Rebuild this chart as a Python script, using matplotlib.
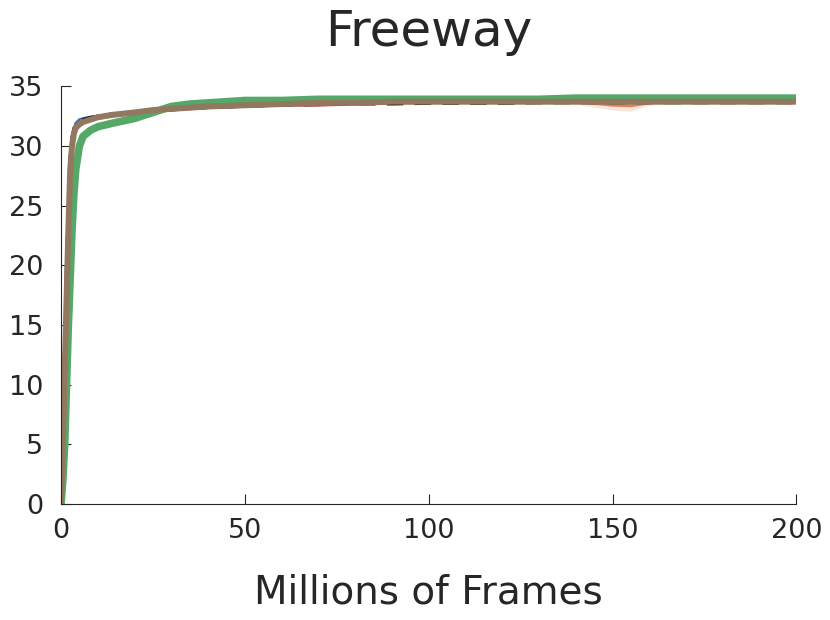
import numpy as np
import matplotlib.pyplot as plt

# frames (millions) and mean scores for each run
frames = [0, 0.5, 1, 1.5, 2, 2.5, 3, 3.5, 4, 5, 6, 8, 10, 14, 20, 25, 30, 35, 40, 50,
          60, 70, 80, 90, 100, 110, 120, 130, 140, 150, 155, 160, 170, 180, 190, 200]

blue = [0, 7, 14, 20, 25.5, 29, 30.6, 31.4, 31.9, 32.2, 32.3, 32.4, 32.5, 32.6, 32.8, 33.0,
        33.1, 33.2, 33.3, 33.4, 33.5, 33.6, 33.6, 33.6, 33.7, 33.7, 33.7, 33.8, 33.7, 33.8,
        33.8, 33.7, 33.8, 33.8, 33.8, 33.8]
red = [0, 5, 11, 17, 23, 28, 30, 31, 31.5, 31.8, 32.0, 32.2, 32.3, 32.5, 32.7, 32.9,
       33.0, 33.1, 33.2, 33.3, 33.4, 33.4, 33.5, 33.6, 33.6, 33.7, 33.7, 33.7, 33.7, 33.6,
       33.6, 33.7, 33.7, 33.7, 33.8, 33.7]
orange = [0, 5, 11, 17, 23, 28, 30, 31, 31.5, 31.8, 32.0, 32.2, 32.4, 32.6, 32.8, 33.0,
          33.1, 33.2, 33.3, 33.5, 33.6, 33.6, 33.7, 33.7, 33.7, 33.8, 33.8, 33.8, 33.7, 33.4,
          33.35, 33.6, 33.8, 33.8, 33.8, 33.8]
orange_lo = [0, 4, 10, 16, 22, 27.5, 29.6, 30.7, 31.3, 31.6, 31.8, 32.0, 32.2, 32.4, 32.6, 32.8,
             33.0, 33.1, 33.2, 33.4, 33.5, 33.5, 33.6, 33.6, 33.6, 33.7, 33.7, 33.7, 33.5, 33.0,
             32.9, 33.4, 33.7, 33.7, 33.7, 33.7]
orange_hi = [0, 6, 12, 18, 24, 28.5, 30.4, 31.3, 31.7, 32.0, 32.2, 32.4, 32.6, 32.8, 33.0, 33.2,
             33.2, 33.3, 33.4, 33.6, 33.7, 33.7, 33.8, 33.8, 33.8, 33.9, 33.9, 33.9, 33.9, 33.7,
             33.7, 33.8, 33.9, 33.9, 33.9, 33.9]
green = [0, 2, 5, 10, 15, 19, 23, 26, 28, 30.0, 30.8, 31.3, 31.6, 31.9, 32.3, 32.8,
         33.3, 33.5, 33.6, 33.8, 33.8, 33.9, 33.9, 33.9, 33.9, 33.9, 33.9, 33.9, 34.0, 34.0,
         34.0, 34.0, 34.0, 34.0, 34.0, 34.0]
black = [0, 7, 14, 21, 26, 29.5, 30.8, 31.5, 31.9, 32.1, 32.2, 32.4, 32.5, 32.7, 32.8, 32.9,
         33.0, 33.1, 33.2, 33.3, 33.4, 33.45, 33.5, 33.5, 33.55, 33.55, 33.55, 33.6, 33.6, 33.6,
         33.6, 33.6, 33.6, 33.6, 33.6, 33.6]
brown = [0, 5, 11, 17, 23, 28, 30, 31, 31.5, 31.8, 32.0, 32.2, 32.4, 32.6, 32.8, 33.0,
         33.1, 33.2, 33.3, 33.4, 33.5, 33.6, 33.6, 33.7, 33.7, 33.7, 33.7, 33.7, 33.7, 33.7,
         33.7, 33.7, 33.7, 33.7, 33.7, 33.7]

fig = plt.figure(figsize=(8.3, 6.2), dpi=100)
ax = fig.add_axes([0.0735, 0.187, 0.886, 0.674])

ax.fill_between(frames, orange_lo, orange_hi, color='#dd8452', alpha=0.2, lw=0)
ax.plot(frames, blue, color='#4c72b0', lw=2)
ax.plot(frames, red, color='#c44e52', lw=2)
ax.plot(frames, orange, color='#dd8452', lw=2)
ax.plot(frames, green, color='#55a868', lw=5.5)
ax.plot(frames, black, color='black', lw=2, ls=(0, (6, 4)))
ax.plot(frames, brown, color='#937860', lw=4.3, solid_capstyle='round')

ax.set_xlim(0, 200)
ax.set_ylim(0, 35)
ax.set_xticks([0, 50, 100, 150, 200])
ax.set_yticks([0, 5, 10, 15, 20, 25, 30, 35])
ax.spines['top'].set_visible(False)
ax.spines['right'].set_visible(False)
for s in ['left', 'bottom']:
    ax.spines[s].set_color('#262626')
ax.tick_params(direction='in', length=7, labelsize=19.5, colors='#262626')
ax.tick_params(axis='x', pad=10)
ax.tick_params(axis='y', pad=13)

ax.set_title('Freeway', fontsize=36, color='#262626', pad=29)
ax.set_xlabel('Millions of Frames', fontsize=28, color='#262626', labelpad=21)

fig.savefig('out.png', dpi=100)
